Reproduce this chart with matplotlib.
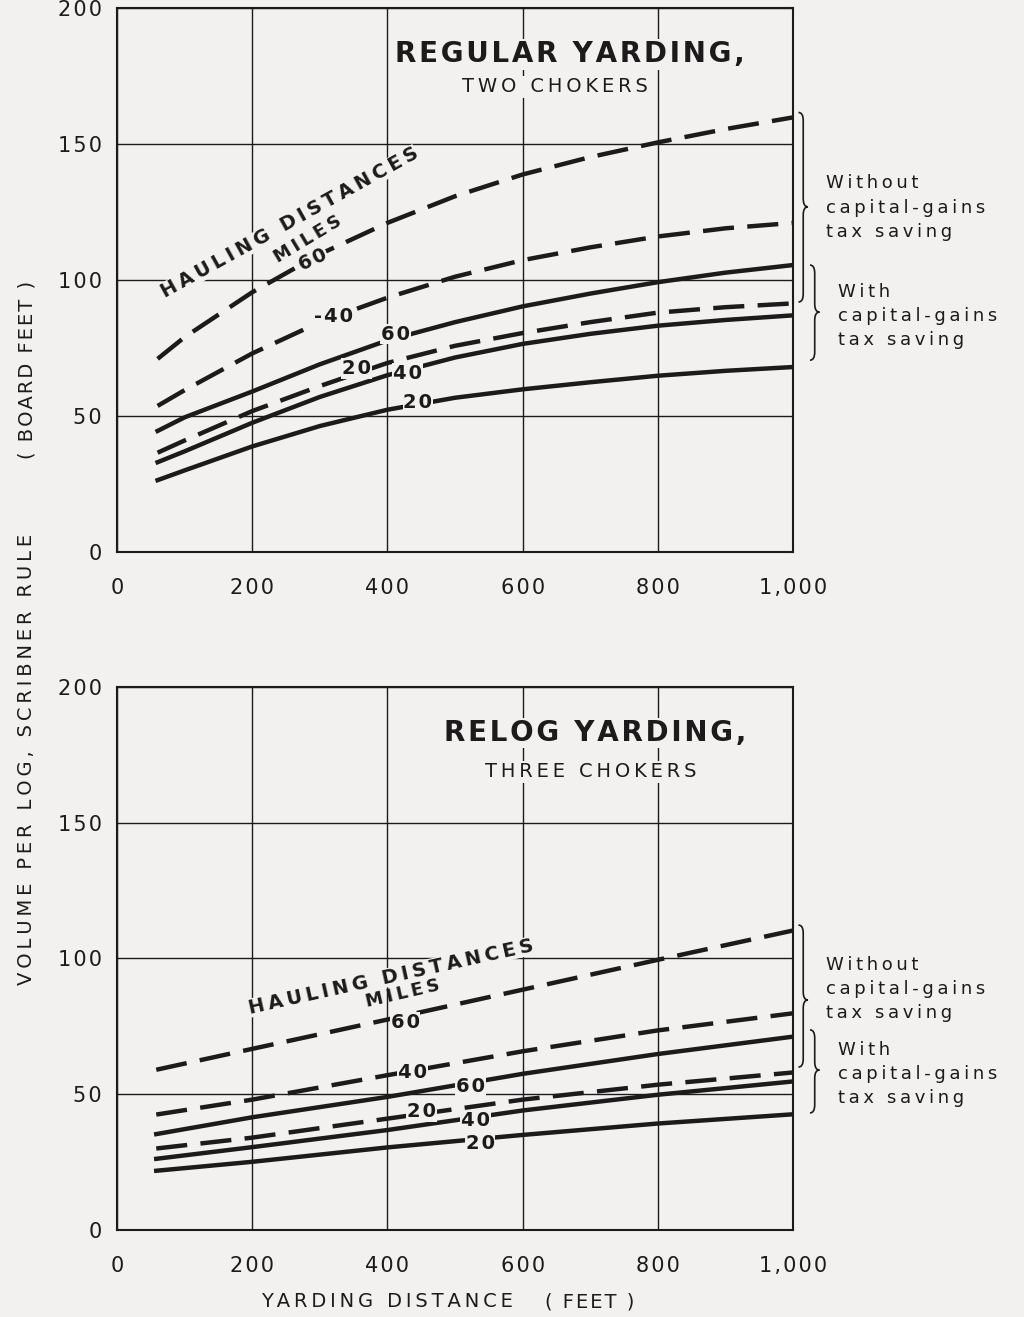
import matplotlib
matplotlib.use("Agg")
import matplotlib.pyplot as plt
from matplotlib.path import Path
from matplotlib.patches import PathPatch

# --- data (yarding distance in feet, volume in board feet)
x_top = [60, 100, 200, 300, 400, 500, 600, 700, 800, 900, 1000]
top_without_60 = [71, 79, 95.5, 109.5, 121, 130.8, 138.8, 145.2, 150.6, 155.5, 159.8]
top_without_40 = [53.7, 59.5, 73, 84.5, 93.5, 101.2, 107.3, 112, 116, 119, 121]
top_without_20 = [36.5, 41, 51.8, 61, 69.5, 75.8, 80.5, 84.5, 88, 90, 91.4]
top_with_60 = [44.5, 49.5, 59, 69, 77.8, 84.5, 90.3, 95, 99.2, 102.7, 105.5]
top_with_40 = [33, 37, 47.5, 57, 65, 71.5, 76.5, 80.2, 83.2, 85.3, 87]
top_with_20 = [26.4, 30, 38.8, 46.3, 52.3, 56.7, 59.8, 62.4, 64.8, 66.6, 68]

x_bot = [58, 200, 400, 600, 800, 1000]
bot_without_60 = [59, 66.7, 77.5, 88.5, 99.5, 110.3]
bot_without_40 = [42.5, 48, 57, 65.8, 73.5, 79.8]
bot_without_20 = [30, 34, 41, 48, 53.5, 58]
bot_with_60 = [35.3, 41.5, 49, 57.5, 64.8, 71.2]
bot_with_40 = [26.2, 30.5, 36.8, 44, 49.8, 54.7]
bot_with_20 = [21.8, 25.1, 30.4, 35, 39.2, 42.6]

x_ticks = [0, 200, 400, 600, 800, 1000]
y_ticks = [0, 50, 100, 150, 200]

BG = "#f3f0f0"
INK = "#1c1a1b"
THIN = "\u2009"
HAIR = "\u200a"


def spaced(s, sp=THIN):
    """Fake the wide letter spacing of the original lettering."""
    return "\n".join(sp.join(line) for line in s.split("\n"))


def draw_brace(ax, x, y_top, y_bot, y_mid, w=7, h=3):
    """Curly brace opening to the left with its point to the right."""
    verts = [(x - w, y_top), (x, y_top), (x, y_top - h),
             (x, y_mid + h), (x, y_mid), (x + w, y_mid),
             (x, y_mid), (x, y_mid - h),
             (x, y_bot + h), (x, y_bot), (x - w, y_bot)]
    codes = [Path.MOVETO, Path.CURVE3, Path.CURVE3,
             Path.LINETO, Path.CURVE3, Path.CURVE3,
             Path.CURVE3, Path.CURVE3,
             Path.LINETO, Path.CURVE3, Path.CURVE3]
    patch = PathPatch(Path(verts, codes), facecolor="none", edgecolor=INK,
                      lw=1.2, clip_on=False)
    ax.add_patch(patch)


def curve_label(ax, x, y, s, rot=0):
    ax.text(x, y, spaced(s, HAIR), ha="center", va="center", fontsize=14,
            fontweight="bold", color=INK, rotation=rot, zorder=5,
            bbox=dict(facecolor=BG, edgecolor="none", pad=0.5))


def setup_axes(ax):
    ax.set_facecolor(BG)
    ax.set_xlim(0, 1000)
    ax.set_ylim(0, 200)
    ax.set_xticks(x_ticks)
    ax.set_yticks(y_ticks)
    ax.set_xticklabels([spaced(f"{v:,}", HAIR) for v in x_ticks])
    ax.set_yticklabels([spaced(str(v), HAIR) for v in y_ticks])
    ax.tick_params(length=0, labelsize=15, colors=INK)
    ax.tick_params(axis="x", pad=19)
    ax.tick_params(axis="y", pad=11)
    ax.grid(True, color=INK, lw=1.0)
    ax.set_axisbelow(True)
    for sp in ax.spines.values():
        sp.set_linewidth(1.5)
        sp.set_color(INK)


def plot_set(ax, x, wo60, wo40, wo20, w60, w40, w20):
    dash = dict(color=INK, lw=3.2, dashes=(7, 3), solid_capstyle="butt", zorder=3)
    solid = dict(color=INK, lw=3.2, zorder=3)
    ax.plot(x, wo60, **dash)
    ax.plot(x, wo40, **dash)
    ax.plot(x, wo20, **dash)
    ax.plot(x, w60, **solid)
    ax.plot(x, w40, **solid)
    ax.plot(x, w20, **solid)


def side_notes(ax, wo_top, wo_bot, wo_mid, w_top, w_bot, w_mid, wo_text_y, w_text_y):
    draw_brace(ax, 1015, wo_top, wo_bot, wo_mid)
    draw_brace(ax, 1032, w_top, w_bot, w_mid)
    ax.text(1049, wo_text_y, spaced("Without\ncapital-gains\ntax saving"), ha="left",
            va="center", fontsize=13, linespacing=1.45, color=INK, clip_on=False)
    ax.text(1067, w_text_y, spaced("With\ncapital-gains\ntax saving"), ha="left",
            va="center", fontsize=13, linespacing=1.45, color=INK, clip_on=False)


def hauling_text(ax, x, y, rot, mx, my, mrot):
    ax.text(x, y, spaced("HAULING DISTANCES"), ha="center", va="center",
            fontsize=14, fontweight="bold", rotation=rot, color=INK, zorder=5,
            bbox=dict(facecolor=BG, edgecolor="none", pad=0))
    ax.text(mx, my, spaced("MILES"), ha="center", va="center", fontsize=13,
            fontweight="bold", rotation=mrot, color=INK, zorder=5)


fig = plt.figure(figsize=(10.24, 13.17), dpi=100, facecolor=BG)
ax1 = fig.add_axes([0.1143, 0.5809, 0.6602, 0.4130])
ax2 = fig.add_axes([0.1143, 0.0661, 0.6602, 0.4123])

# --- top panel: regular yarding
setup_axes(ax1)
plot_set(ax1, x_top, top_without_60, top_without_40, top_without_20,
         top_with_60, top_with_40, top_with_20)
ax1.text(670, 183, spaced("REGULAR YARDING,", HAIR), ha="center", va="center",
         fontsize=20, fontweight="bold", color=INK,
         bbox=dict(facecolor=BG, edgecolor="none", pad=1))
ax1.text(648, 171, spaced("TWO CHOKERS"), ha="center", va="center", fontsize=14,
         color=INK, bbox=dict(facecolor=BG, edgecolor="none", pad=1))
hauling_text(ax1, 255, 121, 29, 282, 115, 31)
curve_label(ax1, 290, 107.4, "60", rot=25)
curve_label(ax1, 320, 86.6, "-40")
curve_label(ax1, 412, 80.1, "60")
curve_label(ax1, 354, 67.5, "20")
curve_label(ax1, 430, 65.8, "40")
curve_label(ax1, 445, 54.8, "20")
side_notes(ax1, 161.6, 91.9, 126.9, 105.5, 70.5, 88.2, 126.6, 86.7)

# --- bottom panel: relog yarding
setup_axes(ax2)
plot_set(ax2, x_bot, bot_without_60, bot_without_40, bot_without_20,
         bot_with_60, bot_with_40, bot_with_20)
ax2.text(707, 183, spaced("RELOG YARDING,", HAIR), ha="center", va="center",
         fontsize=20, fontweight="bold", color=INK,
         bbox=dict(facecolor=BG, edgecolor="none", pad=1))
ax2.text(700, 168.7, spaced("THREE CHOKERS"), ha="center", va="center", fontsize=14,
         color=INK, bbox=dict(facecolor=BG, edgecolor="none", pad=1))
hauling_text(ax2, 405, 93.2, 12.5, 423, 87, 13)
curve_label(ax2, 426, 76.5, "60")
curve_label(ax2, 437, 57.9, "40")
curve_label(ax2, 523, 52.9, "60")
curve_label(ax2, 450, 43.5, "20")
curve_label(ax2, 530, 40.3, "40")
curve_label(ax2, 537, 31.7, "20")
side_notes(ax2, 112.3, 60, 84.7, 73.7, 43.1, 58.9, 88.8, 57.5)

# --- shared axis titles
fig.text(0.026, 0.423, spaced("VOLUME PER LOG, SCRIBNER RULE"), rotation=90,
         ha="center", va="center", fontsize=14, color=INK)
fig.text(0.026, 0.719, spaced("( BOARD FEET )", HAIR), rotation=90,
         ha="center", va="center", fontsize=14, color=INK)
fig.text(387 / 1024, 0.0114, spaced("YARDING DISTANCE"), ha="center", va="center",
         fontsize=14, color=INK)
fig.text(590 / 1024, 0.0114, spaced("( FEET )", HAIR), ha="center", va="center",
         fontsize=14, color=INK)

fig.savefig("out.png", dpi=100, facecolor=BG)
